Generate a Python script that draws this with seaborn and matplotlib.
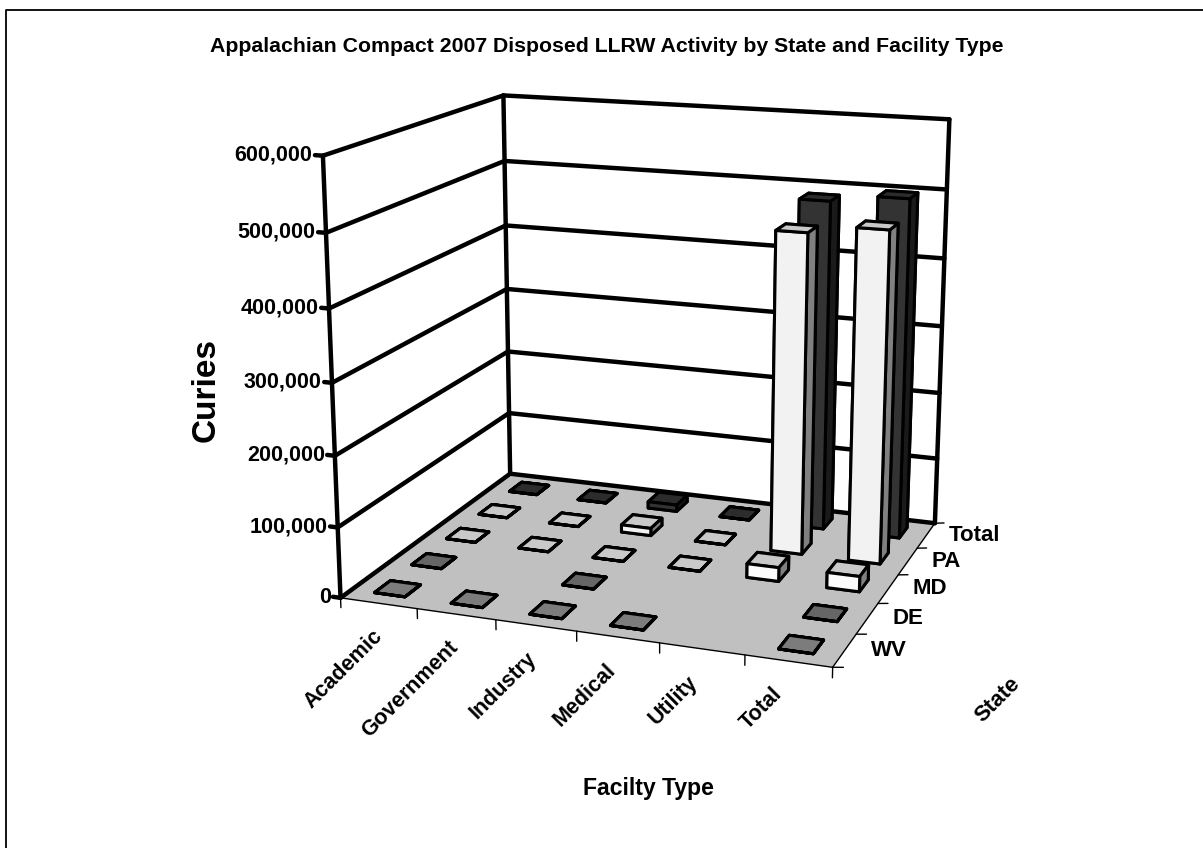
import matplotlib
matplotlib.use("Agg")
import matplotlib.pyplot as plt
import numpy as np
import seaborn as sns
from matplotlib.lines import Line2D
from mpl_toolkits.mplot3d import proj3d
from mpl_toolkits.mplot3d.art3d import Poly3DCollection

facilities = ["Academic", "Government", "Industry", "Medical", "Utility", "Total"]
states = ["WV", "DE", "MD", "PA", "Total"]
curie_ticks = [0, 100000, 200000, 300000, 400000, 500000, 600000]

# nan = no entry in that cell, nothing drawn
wv_vals = [2, 2, 2, 2, np.nan, 5]
de_vals = [2, np.nan, 2, np.nan, np.nan, 5]
md_vals = [2, 2, 2, 2, 20000, 22000]
pa_vals = [2, 2, 11000, 2, 465000, 477000]
total_vals = [5, 5, 10000, 5, 488000, 499000]
all_vals = [wv_vals, de_vals, md_vals, pa_vals, total_vals]

# face colours: front, side, top
state_cols = [("#808080", "#5a5a5a", "#7c7c7c"),
              ("#666666", "#4a4a4a", "#666666"),
              ("#fbfbfb", "#808080", "#c9c9c9"),
              ("#f2f2f2", "#808080", "#c9c9c9"),
              ("#333333", "#1a1a1a", "#2c2c2c")]

sns.set_theme(style="white")
plt.rcParams["font.family"] = ["Liberation Sans", "DejaVu Sans"]
plt.rcParams["font.weight"] = "bold"

W, H = 1203, 848
fig = plt.figure(figsize=(W / 100, H / 100), dpi=100)
fig.patch.set_facecolor("white")
# frame only shows on the top and left
fig.add_artist(Line2D([6 / W, 6 / W, 1], [0, 1 - 9.5 / H, 1 - 9.5 / H], transform=fig.transFigure,
                      color="black", lw=1.3))

S = 800
ax = fig.add_axes([241 / W, 84 / H, S / W, S / H], projection="3d", computed_zorder=False)
ax.set_proj_type("persp", focal_length=0.5)
ax.view_init(elev=15, azim=-70)
ax.set_xlim(0, 6)
ax.set_ylim(0, 5)
ax.set_zlim(0, 600000)
box = np.array([1.15, 0.955, 1.01])
ax.set_box_aspect(box, zoom=np.linalg.norm(box) / 1.9057)
ax.set_axis_off()
ax.patch.set_alpha(0)

nx, ny, top = len(facilities), len(states), curie_ticks[-1]

# floor
floor = Poly3DCollection([[(0, 0, 0), (nx, 0, 0), (nx, ny, 0), (0, ny, 0)]],
                         facecolor="#c0c0c0", edgecolor="none", zorder=1)
ax.add_collection3d(floor)

thick = dict(color="black", lw=3.2, solid_capstyle="round", zorder=2)
thin = dict(color="black", lw=1.0, zorder=2)

# walls
for c in curie_ticks:
    ax.plot([0, 0], [0, ny], [c, c], **thick)
    ax.plot([0, nx], [ny, ny], [c, c], **thick)
    ax.plot([0, -0.1], [0, 0], [c, c], **thick)
ax.plot([0, 0], [0, 0], [0, top], **thick)
ax.plot([0, 0], [ny, ny], [0, top], **thick)
ax.plot([nx, nx], [ny, ny], [0, top], **thick)

# thin floor edges + ticks
ax.plot([0, nx], [0, 0], [0, 0], **thin)
ax.plot([nx, nx], [0, ny], [0, 0], **thin)
for i in range(nx + 1):
    ax.plot([i, i], [0, 0], [0, -14000], **thin)
for j in range(ny + 1):
    ax.plot([nx, nx + 0.12], [j, j], [0, 2000], **thin)

# bars, back row first so the front ones cover them
bw, bd = 0.40, 0.42
order = 10
for j in range(ny - 1, -1, -1):
    front, side, topc = state_cols[j]
    for i in range(nx):
        v = all_vals[j][i]
        if np.isnan(v):
            continue
        if v < 100:
            cols = [topc] * 6
        else:
            cols = [topc, topc, front, front, side, side]
        ax.bar3d(i + (1 - bw) / 2, j + (1 - bd) / 2, 0, bw, bd, v, color=cols, shade=False,
                 edgecolor="black", linewidth=2.2, zorder=order)
        order += 1


def label3d(x, y, z, s, **kw):
    # Text3D drops rotation, so project the spot and put plain text there
    u, v, _ = proj3d.proj_transform(x, y, z, ax.get_proj())
    ax.text2D(u, v, s, transform=ax.transData, fontweight="bold", color="black", **kw)


ax.apply_aspect()
for c in curie_ticks:
    label3d(-0.12, -0.02, c, f"{c:,}", ha="right", va="center", fontsize=15.5)
for i, name in enumerate(facilities):
    label3d(i * 0.95 + 0.75, -0.65, 0, name, rotation=45, rotation_mode="anchor", ha="right", va="top",
            fontsize=15.5)
for j, name in enumerate(states):
    label3d(nx + 0.27, j + 0.6, 0, name, ha="left", va="center", fontsize=16)

fig.text(607 / W, 1 - 46 / H, "Appalachian Compact 2007 Disposed LLRW Activity by State and Facility Type",
         ha="center", va="center", fontsize=15.3, fontweight="bold", color="black")
fig.text(206 / W, 1 - 390 / H, "Curies", rotation=90, ha="center", va="center",
         fontsize=24, fontweight="bold", color="black")
fig.text(648 / W, 1 - 788 / H, "Facilty Type", ha="center", va="center",
         fontsize=16.6, fontweight="bold", color="black")
fig.text(998 / W, 1 - 700 / H, "State", rotation=45, ha="center", va="center",
         fontsize=16, fontweight="bold", color="black")

fig.savefig("out.png", dpi=100)
